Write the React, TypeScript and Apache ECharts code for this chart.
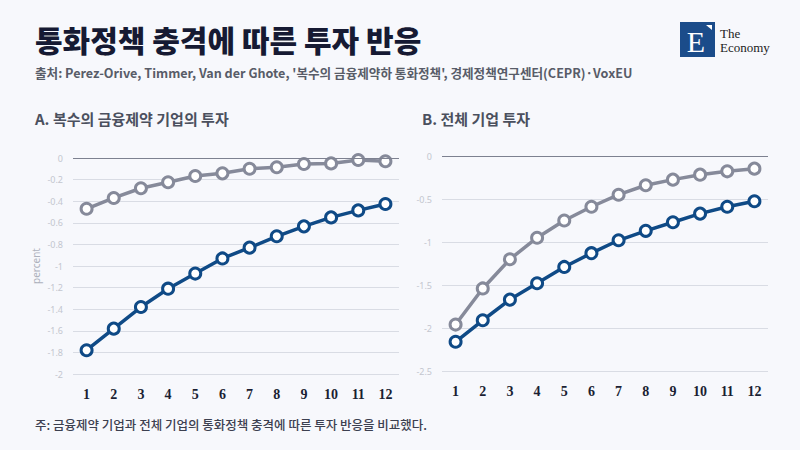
import { useEffect, useRef } from "react";
import * as echarts from "echarts";

// periods after the shock
const periods = ["1", "2", "3", "4", "5", "6", "7", "8", "9", "10", "11", "12"];

// A. firms with multiple financial constraints
const leftGray = [-0.47, -0.37, -0.28, -0.225, -0.167, -0.142, -0.1, -0.086, -0.056, -0.05, -0.019, -0.03];
const leftBlue = [-1.78, -1.58, -1.38, -1.21, -1.07, -0.93, -0.83, -0.725, -0.633, -0.55, -0.485, -0.426];

// B. all firms
const rightGray = [-1.96, -1.54, -1.2, -0.95, -0.75, -0.59, -0.45, -0.34, -0.275, -0.217, -0.178, -0.147];
const rightBlue = [-2.16, -1.91, -1.67, -1.48, -1.29, -1.13, -0.98, -0.87, -0.77, -0.67, -0.59, -0.526];

const GRAY = "#868a9a";
const BLUE = "#0f4a86";
const KR = "'Noto Sans CJK KR', 'Noto Sans', sans-serif";

function lineSeries(data: number[], color: string, idx: number, zeroLine: boolean): any {
  return {
    type: "line",
    xAxisIndex: idx,
    yAxisIndex: idx,
    data,
    symbol: "circle",
    symbolSize: 11,
    lineStyle: { color, width: 3.5 },
    itemStyle: { color: "#fff", borderColor: color, borderWidth: 3 },
    markLine: zeroLine
      ? {
          silent: true,
          symbol: "none",
          label: { show: false },
          lineStyle: { color: "#7d8190", width: 1, type: "solid" },
          data: [{ yAxis: 0 }],
        }
      : undefined,
  };
}

export default function App() {
  const ref = useRef<HTMLDivElement>(null);

  useEffect(() => {
    document.body.style.margin = "0";
    if (!ref.current) return;
    const chart = echarts.init(ref.current, undefined, { renderer: "svg" });

    const xAxisBase = {
      type: "category" as const,
      data: periods,
      boundaryGap: true,
      axisLine: { show: false },
      axisTick: { show: false },
      axisLabel: {
        fontFamily: "'Liberation Serif', serif",
        fontWeight: "bold" as const,
        fontSize: 14,
        color: "#1b1f33",
        margin: 13,
      },
    };
    const yAxisBase = {
      type: "value" as const,
      max: 0,
      axisLine: { show: false },
      axisTick: { show: false },
      axisLabel: { fontFamily: "'Noto Sans', sans-serif", fontSize: 9, color: "#c3c6cf", margin: 10 },
      splitLine: { lineStyle: { color: "#d9dce4", width: 1 } },
    };

    chart.setOption({
      animation: false,
      backgroundColor: "#f7f8fc",
      grid: [
        { left: 73, top: 158, width: 326, height: 216 },
        { left: 442, top: 156, width: 326, height: 215 },
      ],
      xAxis: [
        { ...xAxisBase, gridIndex: 0 },
        { ...xAxisBase, gridIndex: 1 },
      ],
      yAxis: [
        {
          ...yAxisBase,
          gridIndex: 0,
          min: -2,
          interval: 0.2,
          name: "percent",
          nameLocation: "middle",
          nameRotate: 90,
          nameGap: 32,
          nameTextStyle: { fontFamily: "'Noto Sans', sans-serif", fontSize: 10, color: "#aeb2bd" },
        },
        { ...yAxisBase, gridIndex: 1, min: -2.5, interval: 0.5 },
      ],
      series: [
        lineSeries(leftGray, GRAY, 0, true),
        lineSeries(leftBlue, BLUE, 0, false),
        lineSeries(rightGray, GRAY, 1, true),
        lineSeries(rightBlue, BLUE, 1, false),
      ],
      graphic: [
        {
          type: "text",
          x: 35,
          y: 39,
          style: {
            text: "통화정책 충격에 따른 투자 반응",
            fontFamily: KR,
            fontWeight: 900,
            fontSize: 30,
            fill: "#161a33",
            verticalAlign: "middle",
          },
        },
        {
          type: "text",
          x: 35,
          y: 72,
          style: {
            text: "출처: Perez-Orive, Timmer, Van der Ghote, '복수의 금융제약하 통화정책', 경제정책연구센터(CEPR)·VoxEU",
            fontFamily: KR,
            fontWeight: 700,
            fontSize: 12.6,
            fill: "#585c68",
            verticalAlign: "middle",
          },
        },
        {
          type: "text",
          x: 35,
          y: 118,
          style: {
            text: "A. 복수의 금융제약 기업의 투자",
            fontFamily: KR,
            fontWeight: 700,
            fontSize: 15,
            fill: "#4b505e",
            verticalAlign: "middle",
          },
        },
        {
          type: "text",
          x: 422,
          y: 118,
          style: {
            text: "B. 전체 기업 투자",
            fontFamily: KR,
            fontWeight: 700,
            fontSize: 15,
            fill: "#4b505e",
            verticalAlign: "middle",
          },
        },
        {
          type: "text",
          x: 35,
          y: 424,
          style: {
            text: "주: 금융제약 기업과 전체 기업의 통화정책 충격에 따른 투자 반응을 비교했다.",
            fontFamily: KR,
            fontWeight: 500,
            fontSize: 12.5,
            fill: "#3c4050",
            verticalAlign: "middle",
          },
        },
        // logo
        {
          type: "rect",
          shape: { x: 680, y: 22, width: 35, height: 35 },
          style: { fill: "#1b4c8a" },
        },
        {
          type: "text",
          x: 696,
          y: 41,
          style: {
            text: "E",
            fontFamily: "'Liberation Serif', serif",
            fontSize: 30,
            fill: "#fff",
            align: "center",
            verticalAlign: "middle",
          },
        },
        {
          type: "polygon",
          shape: { points: [[706, 25], [712, 25], [712, 30]] },
          style: { fill: "#fff" },
        },
        {
          type: "text",
          x: 720,
          y: 33.5,
          style: {
            text: "The",
            fontFamily: "'Liberation Serif', serif",
            fontSize: 13,
            fill: "#222",
            verticalAlign: "middle",
          },
        },
        {
          type: "text",
          x: 720,
          y: 47.5,
          style: {
            text: "Economy",
            fontFamily: "'Liberation Serif', serif",
            fontSize: 13,
            fill: "#222",
            verticalAlign: "middle",
          },
        },
      ],
    });

    return () => chart.dispose();
  }, []);

  return <div ref={ref} style={{ width: 800, height: 450 }} />;
}
